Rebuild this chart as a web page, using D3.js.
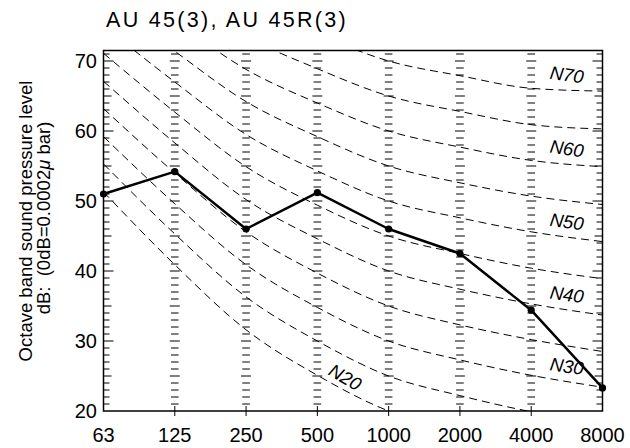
<!DOCTYPE html>
<html>
<head>
<meta charset="utf-8">
<script src="https://cdn.jsdelivr.net/npm/d3@7"></script>
<style>
  html, body { margin: 0; padding: 0; background: #fff; }
  svg { display: block; font-family: "Liberation Sans", Arial, Helvetica, sans-serif; }
  text { white-space: pre; }
</style>
</head>
<body>
<svg id="chart" width="630" height="448"></svg>
<script>
// ---- data ----
const bands = ["63", "125", "250", "500", "1000", "2000", "4000", "8000"];
const spectrum = [51.0, 54.2, 46.0, 51.2, 46.0, 42.5, 34.4, 23.3];
const yTicks = [20, 30, 40, 50, 60, 70];
const title = "AU 45(3), AU 45R(3)";

// N-curves (dB at each octave band)
const n20 = [51.3, 40.9, 31.6, 25.1, 20, 17.1, 14.8, 13.2];
const n25 = [55.3, 45.3, 36.3, 30.0, 25, 22.2, 19.9, 18.3];
const n30 = [59.2, 49.6, 40.9, 34.8, 30, 27.3, 25.1, 23.4];
const n35 = [63.2, 54.0, 45.6, 39.7, 35, 32.3, 30.2, 28.5];
const n40 = [67.1, 58.3, 50.2, 44.6, 40, 37.4, 35.3, 33.7];
const n45 = [71.1, 62.7, 54.9, 49.4, 45, 42.5, 40.4, 38.9];
const n50 = [75.0, 67.0, 59.5, 54.3, 50, 47.6, 45.6, 44.2];
const n55 = [79.0, 71.4, 64.2, 59.2, 55, 52.6, 50.7, 49.5];
const n60 = [82.9, 75.7, 68.8, 64.0, 60, 57.7, 55.8, 54.9];
const n65 = [86.9, 80.1, 73.5, 68.9, 65, 62.8, 60.9, 60.3];
const n70 = [90.8, 84.4, 78.1, 73.8, 70, 67.9, 66.1, 65.7];
const nCurves = [n20, n25, n30, n35, n40, n45, n50, n55, n60, n65, n70];
const labeledRight = [["N70", n70], ["N60", n60], ["N50", n50], ["N40", n40], ["N30", n30]];

// ---- layout ----
const L = 103.5, R = 602.5, T = 50.5, B = 411;
const svg = d3.select("#chart");

const x = d3.scalePoint().domain(bands).range([L, R]).padding(0);
const y = d3.scaleLinear().domain([20, 71.5]).range([B, T]);

// clip
svg.append("defs").append("clipPath").attr("id", "plotclip")
  .append("rect").attr("x", L).attr("y", T).attr("width", R - L).attr("height", B - T);

// interior band "ruler" dashes
const dbSteps = d3.range(21, 72, 1);
const inner = bands.slice(1, -1);
const ruler = svg.append("g").attr("stroke", "#000").attr("stroke-width", 1);
inner.forEach(b => {
  dbSteps.forEach(v => {
    const hw = (v % 5 === 0) ? 5 : 3.8;
    ruler.append("line")
      .attr("x1", x(b) - hw).attr("x2", x(b) + hw)
      .attr("y1", y(v)).attr("y2", y(v));
  });
});

// left/right inward ticks
const axTicks = svg.append("g").attr("stroke", "#000").attr("stroke-width", 1);
dbSteps.forEach(v => {
  const len = (v % 10 === 0) ? 10 : (v % 5 === 0 ? 8 : 6);
  axTicks.append("line").attr("x1", L).attr("x2", L + len).attr("y1", y(v)).attr("y2", y(v));
  axTicks.append("line").attr("x1", R).attr("x2", R - len).attr("y1", y(v)).attr("y2", y(v));
});
// bottom ticks
inner.forEach(b => {
  axTicks.append("line").attr("x1", x(b)).attr("x2", x(b)).attr("y1", B - 5).attr("y2", B + 5);
});

// N curves
const curveLine = d3.line()
  .x((d, i) => x(bands[i]))
  .y(d => y(d))
  .curve(d3.curveMonotoneX);
svg.append("g").attr("clip-path", "url(#plotclip)")
  .selectAll("path").data(nCurves).join("path")
  .attr("d", curveLine)
  .attr("fill", "none").attr("stroke", "#000").attr("stroke-width", 1)
  .attr("stroke-dasharray", "8,5");

// N labels
const step = x.step();
const labG = svg.append("g").attr("font-size", 18.5).attr("font-style", "italic").attr("fill", "#000");
labeledRight.forEach(([name, arr]) => {
  const cx = (x("4000") + x("8000")) / 2;
  const cy = y((arr[6] + arr[7]) / 2) - 15;
  labG.append("text").attr("x", cx).attr("y", cy).attr("dy", "0.35em")
    .attr("text-anchor", "middle")
    .attr("transform", `rotate(8,${cx},${cy})`)
    .text(name);
});
{
  const f = 0.39;
  const cx = x("500") + f * step;
  const cy = y(n20[3] + f * (n20[4] - n20[3])) - 12;
  labG.append("text").attr("x", cx).attr("y", cy).attr("dy", "0.35em")
    .attr("text-anchor", "middle")
    .attr("transform", `rotate(30,${cx},${cy})`)
    .text("N20");
}

// data line
const dataLine = d3.line().x((d, i) => x(bands[i])).y(d => y(d));
svg.append("path").datum(spectrum).attr("d", dataLine)
  .attr("fill", "none").attr("stroke", "#000").attr("stroke-width", 2.5)
  .attr("stroke-linejoin", "round");
svg.append("g").selectAll("circle").data(spectrum).join("circle")
  .attr("cx", (d, i) => x(bands[i])).attr("cy", d => y(d)).attr("r", 3.6).attr("fill", "#000");

// frame
svg.append("rect").attr("x", L).attr("y", T).attr("width", R - L).attr("height", B - T)
  .attr("fill", "none").attr("stroke", "#000").attr("stroke-width", 1.5);

// tick labels
svg.append("g").attr("font-size", 20).attr("text-anchor", "middle")
  .selectAll("text").data(bands).join("text")
  .attr("x", d => x(d)).attr("y", 442).text(d => d);
svg.append("g").attr("font-size", 20).attr("text-anchor", "end")
  .selectAll("text").data(yTicks).join("text")
  .attr("x", 97).attr("y", d => y(d)).attr("dy", "0.36em").text(d => d);

// title
svg.append("text").attr("x", 106).attr("y", 27).attr("font-size", 21.5)
  .attr("letter-spacing", 2.3).text(title);

// y axis title
const yt = svg.append("g").attr("font-size", 18.5).attr("text-anchor", "middle");
yt.append("text").attr("transform", "translate(32,221) rotate(-90)").text("Octave band sound pressure level");
const t2 = yt.append("text").attr("transform", "translate(50,218) rotate(-90)");
t2.append("tspan").text("dB:  (0dB=0.0002");
t2.append("tspan").attr("font-style", "italic").text("\u03bc");
t2.append("tspan").text(" bar)");
</script>
</body>
</html>
